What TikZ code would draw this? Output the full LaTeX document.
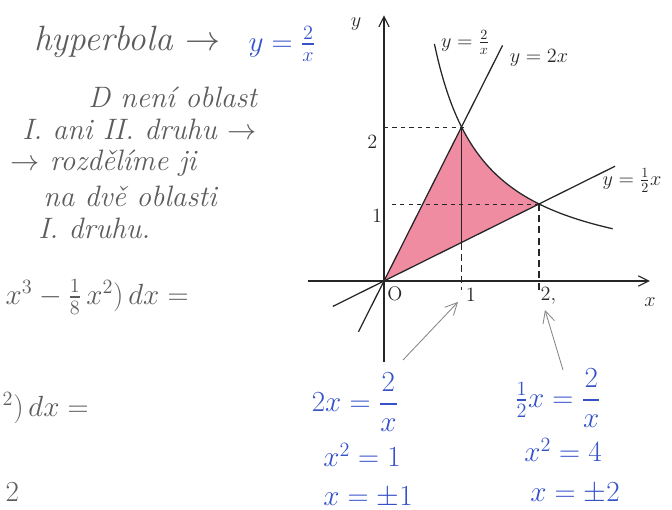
\documentclass[tikz,border=0pt]{standalone}
\usepackage{fontspec}
\usepackage{amsmath}
\usetikzlibrary{arrows.meta}
\definecolor{Pencil}{HTML}{5C5C5C}
\definecolor{Graphite}{HTML}{262626}
\definecolor{Ink}{HTML}{3552C9}
\definecolor{Shade}{HTML}{EF8CA1}
\tikzset{
  note/.style={font=\fontsize{21}{25}\selectfont\itshape,text=Pencil,inner sep=0pt,anchor=west},
  calc/.style={font=\fontsize{20}{24}\selectfont,text=Pencil,inner sep=1pt,anchor=west},
  ink/.style={font=\fontsize{20}{24}\selectfont,text=Ink,inner sep=1pt},
  lbl/.style={font=\fontsize{14}{16}\selectfont,text=Graphite,inner sep=1pt},
  axis/.style={-{Straight Barb[length=2.6mm,width=2.6mm]},draw=Graphite,line width=.8pt},
  curve/.style={draw=Graphite,line width=.9pt},
  guide/.style={draw=Graphite,dashed,line width=.45pt},
  drop/.style={draw=Graphite,dash pattern=on 5pt off 3pt,line width=.8pt},
  hint/.style={-{Straight Barb[length=3mm,width=3mm]},draw=Pencil!75,line width=.6pt},
}
\begin{document}
\begin{tikzpicture}[x=.025cm,y=.025cm]
\useasboundingbox (0,0) rectangle (672,510);
\clip (0,0) rectangle (672,510);
% notes on the left
\node[note,font=\fontsize{25}{29}\selectfont\itshape] (hyp) at (34,468) {hyperbola $\rightarrow$};
\node[ink,font=\fontsize{22}{26}\selectfont] (hypeq) at (282,466) {$y=\frac{2}{x}$};
\node[note] (d1) at (88,413) {D není oblast};
\node[note] (d2) at (22,381) {I. ani II. druhu $\rightarrow$};
\node[note] (d3) at (10,347) {$\rightarrow$ rozdělíme ji};
\node[note] (d4) at (43,314) {na dvě oblasti};
\node[note] (d5) at (38,282) {I. druhu.};
\node[calc] (i1) at (4,213) {$x^3-\tfrac{1}{8}\,x^2)\,dx=$};
\node[calc] (i2) at (1,102) {${}^2)\,dx=$};
\node[calc] (i3) at (4,18) {$2$};
% graph
\begin{scope}[shift={(384,229)},x=1.9375cm,y=1.925cm]
  \fill[Shade] (0,0) -- (1,2) -- plot[domain=1:2,smooth,samples=20] (\x,{2/\x}) -- cycle;
  \draw[guide] (0,2) -- (1.08,2);
  \draw[guide] (0.1,1) -- (2,1);
  \draw[axis] (-0.98,0) -- (3.43,0);
  \draw[axis] (0,-1.05) -- (0,3.45);
  \draw[curve] (-0.33,-0.66) -- (1.53,3.06);
  \draw[curve] (-0.66,-0.33) -- (2.98,1.49);
  \draw[curve] plot[domain=0.65:2.95,smooth,samples=40] (\x,{2/\x});
  \draw[curve] (1,0.5) -- (1,2);
  \draw[drop] (1,0.5) -- (1,-0.12);
  \draw[drop] (2,1) -- (2,-0.12);
  \node[lbl] (ly) at (-0.36,3.33) {$y$};
  \node[lbl] (lx) at (3.43,-0.27) {$x$};
  \node[lbl] (lo) at (0.14,-0.16) {O};
  \node[lbl] (lx1) at (1.12,-0.18) {$1$};
  \node[lbl] (lx2) at (2.12,-0.2) {$2,$};
  \node[lbl] (ly1) at (-0.09,0.84) {$1$};
  \node[lbl] (ly2) at (-0.15,1.8) {$2$};
  \node[lbl] (lhyp) at (1.05,3.1) {$y=\frac{2}{x}$};
  \node[lbl] (lsteep) at (2.0,2.9) {$y=2x$};
  \node[lbl] (lflat) at (3.2,1.31) {$y=\frac{1}{2}x$};
\end{scope}
% intersections
\node[ink] (eqA) at (355,108) {$2x=\dfrac{2}{x}$};
\node[ink] (eqA2) at (362,55) {$x^2=1$};
\node[ink] (eqA3) at (368,13) {$x=\pm1$};
\node[ink] (eqB) at (558,112) {$\frac{1}{2}x=\dfrac{2}{x}$};
\node[ink] (eqB2) at (563,60) {$x^2=4$};
\node[ink] (eqB3) at (575,17) {$x=\pm2$};
\coordinate (a1) at (403,150);
\coordinate (t1) at (458,208);
\coordinate (a2) at (563,140);
\coordinate (t2) at (545,200);
\draw[hint] (a1) -- (t1);
\draw[hint] (a2) -- (t2);
\end{tikzpicture}
\end{document}
